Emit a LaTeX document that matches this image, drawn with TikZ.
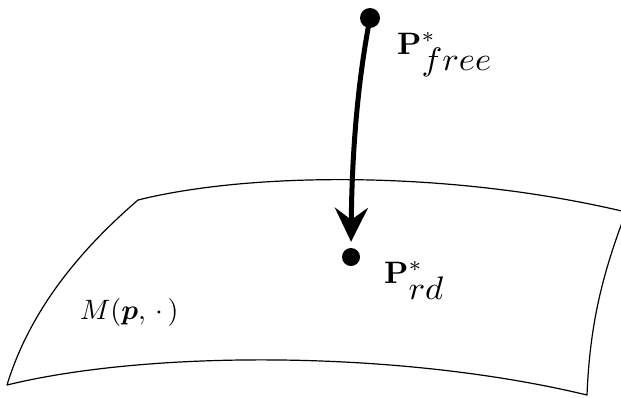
\documentclass[tikz,border=0pt]{standalone}
\usepackage{graphicx}
\usepackage{bm}
\usetikzlibrary{arrows.meta}
\newcommand{\bigtxt}[1]{\scalebox{3.1}{#1}}
\newcommand{\subtxt}[1]{\raisebox{-2.3pt}{\scalebox{1.12}[1.05]{$#1$}}}
\begin{document}
\begin{tikzpicture}[x=1pt,y=-1pt,
  dot/.style={circle,fill=black,inner sep=0pt},
  surf/.style={line width=1.2pt,line join=round},
  lbl/.style={anchor=base west,inner sep=0pt},
  arr/.style={line width=5pt,-{Stealth[length=34pt,width=33pt,inset=12pt]}}]
\useasboundingbox (0,0) rectangle (621,397);
\begin{scope}
\clip (0,0) rectangle (621,397);
\draw[surf] (138,200) .. controls (250,172) and (450,170) .. (626,212)
  .. controls (604,270) and (590,320) .. (587,395)
  .. controls (400,350) and (150,350) .. (7,385)
  .. controls (30,310) and (80,250) .. cycle;
\end{scope}
\node[dot,minimum size=20pt] (pf) at (370,18) {};
\node[dot,minimum size=18pt] (prd) at (351,257) {};
\draw[arr,shorten >=6pt] (pf.center) .. controls (358,80) and (352,150) .. (prd.north);
\node[lbl] (lf) at (397,54) {\bigtxt{$\mathbf{P}^{*}_{\subtxt{free}}$}};
\node[lbl] (lrd) at (384,283) {\bigtxt{$\mathbf{P}^{*}_{\subtxt{rd}}$}};
\node[lbl] (ml) at (80,319) {\scalebox{2.8}{$M(\bm{p},\,\cdot\,)$}};
\end{tikzpicture}
\end{document}
